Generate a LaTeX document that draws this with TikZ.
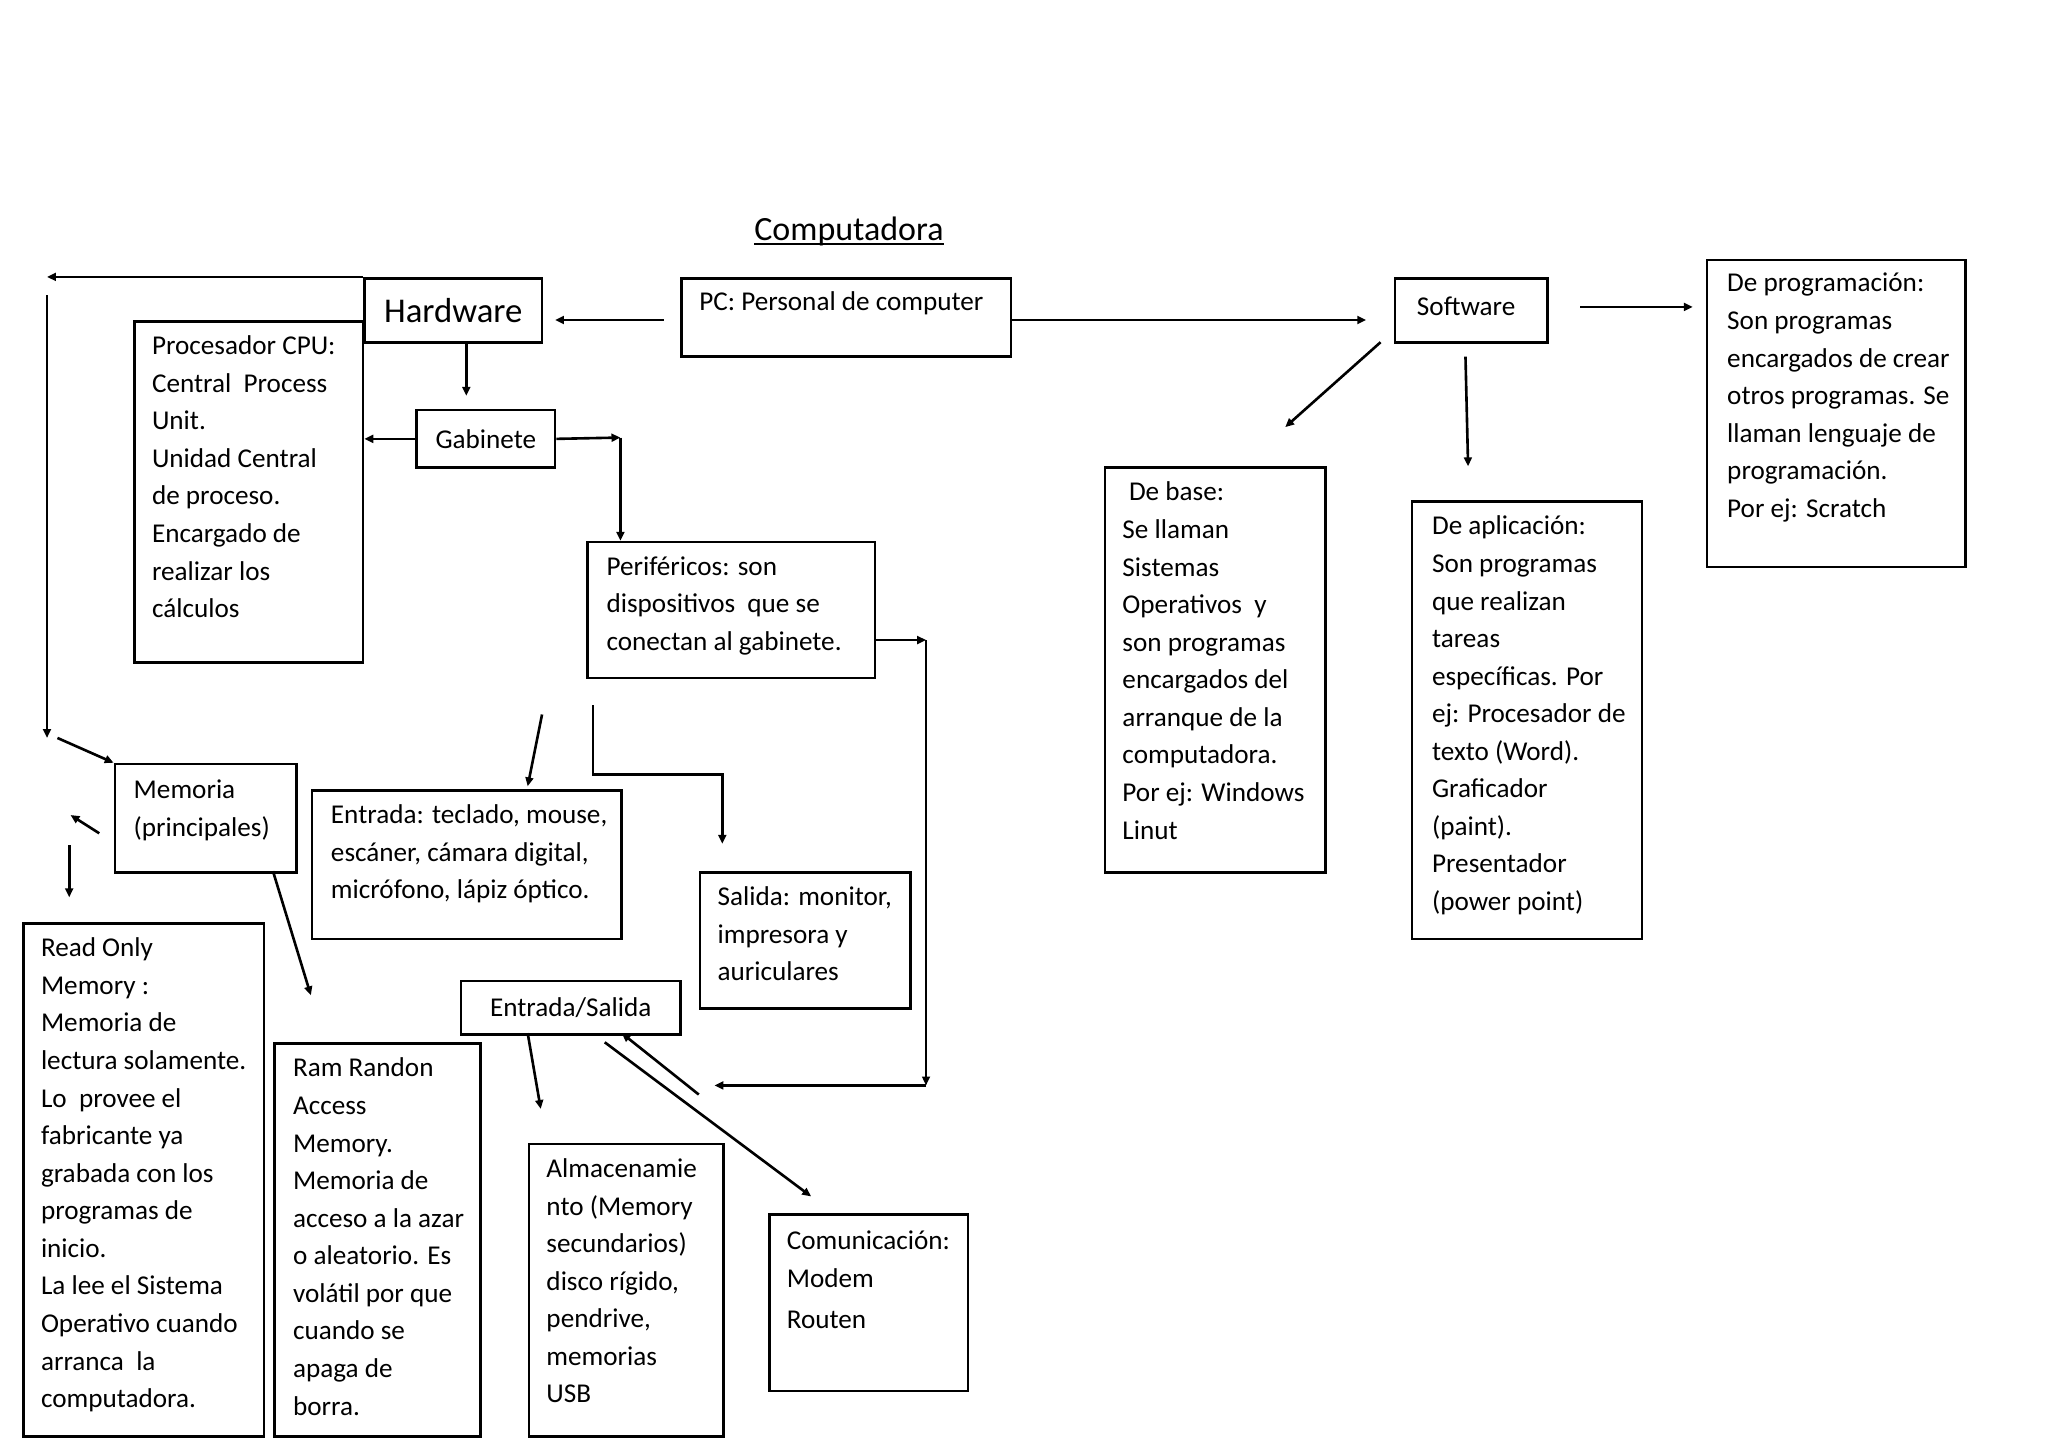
\documentclass[tikz,border=0pt]{standalone}
\usepackage{fontspec}
\setmainfont{Carlito}
\usetikzlibrary{arrows.meta}
\newcommand\bodyfont{\fontsize{10.4}{14.38}\selectfont}
\newcommand\ulc[1]{\setbox0\hbox{#1}\rlap{\rule[-1.8pt]{\wd0}{0.6pt}}\box0}
\newcommand\mkbox[5]{\node[box, minimum width=#4*0.5pt, minimum height=#5*0.5pt] (#1) at (#2,#3) {};}
\tikzset{
 box/.style={draw, line width=1pt, anchor=north west, inner sep=0pt, font=\bodyfont},
 txt/.style={anchor=north west, inner sep=0pt, align=left, font=\bodyfont},
 arr/.style={line width=1pt, -{Triangle[length=3.4pt,width=3pt]}},
 ln/.style={line width=1pt}
}
\begin{document}
\begin{tikzpicture}[x=0.5pt,y=-0.5pt]
\useasboundingbox (0,0) rectangle (1568,1108.6);
\fill[white] (0,0) rectangle (1568,1108.6);

% title
\node[font=\fontsize{13}{15}\selectfont] (title) at (650,177) {\ulc{Computadora}};

% single-line boxes
\node[box, minimum width=68pt, minimum height=24.5pt, font=\fontsize{13.3}{15}\selectfont] (hw) at (278,212) {Hardware};
\node[box, minimum width=58.5pt, minimum height=24.5pt] (sw) at (1067,212) {Software\rule[-3pt]{0pt}{0pt}\hspace*{4pt}};
\node[box, minimum width=53pt, minimum height=22pt] (gab) at (318,313) {Gabinete};
\node[box, minimum width=84pt, minimum height=20.5pt] (es) at (352,750) {Entrada/Salida};

% multi-line boxes
\mkbox{pc}{521}{212}{252}{60}
\mkbox{prog}{1306}{198}{198}{235}
\mkbox{cpu}{102}{245}{175}{261}
\mkbox{peri}{449}{414}{220}{104}
\mkbox{base}{845}{357}{169}{310}
\mkbox{apl}{1080}{383}{176}{335}
\mkbox{mem}{87}{584}{139}{83}
\mkbox{ent}{238}{604}{237}{114}
\mkbox{sal}{535}{667}{161}{104}
\mkbox{rom}{17}{706}{184}{393}
\mkbox{ram}{209}{798}{158}{301}
\mkbox{alm}{404}{875}{149}{224}
\mkbox{com}{588}{929}{152}{135}

\node[txt] (pc-t) at ([shift={(14,5)}]pc.north west) {\strut PC: Personal de computer};
\node[txt] (prog-t) at ([shift={(16,5)}]prog.north west) {\strut De programación:\\Son programas\\encargados de crear\\otros programas. Se\\llaman lenguaje de\\programación.\\Por ej: Scratch};
\node[txt] (cpu-t) at ([shift={(14,6)}]cpu.north west) {\strut Procesador CPU:\\Central~ Process\\Unit.\\Unidad Central\\de proceso.\\Encargado de\\realizar los\\cálculos};
\node[txt] (peri-t) at ([shift={(15,6)}]peri.north west) {\strut Periféricos: son\\dispositivos~ que se\\conectan al gabinete.};
\node[txt] (base-t) at ([shift={(14,6)}]base.north west) {\strut\hspace{2.5pt}De base:\\Se llaman\\Sistemas\\Operativos~ y\\son programas\\encargados del\\arranque de la\\computadora.\\Por ej: Windows\\Linut};
\node[txt] (apl-t) at ([shift={(16,6)}]apl.north west) {\strut De aplicación:\\Son programas\\que realizan\\tareas\\específicas. Por\\ej: Procesador de\\texto (Word).\\Graficador\\(paint).\\Presentador\\(power point)};
\node[txt] (mem-t) at ([shift={(15,7)}]mem.north west) {\strut Memoria\\(principales)};
\node[txt] (ent-t) at ([shift={(15,6)}]ent.north west) {\strut Entrada: teclado, mouse,\\escáner, cámara digital,\\micrófono, lápiz óptico.};
\node[txt] (sal-t) at ([shift={(14,6)}]sal.north west) {\strut Salida: monitor,\\impresora y\\auriculares};
\node[txt] (rom-t) at ([shift={(14,6)}]rom.north west) {\strut Read Only\\Memory :\\Memoria de\\lectura solamente.\\Lo~ provee el\\fabricante ya\\grabada con los\\programas de\\inicio.\\La lee el Sistema\\Operativo cuando\\arranca~ la\\computadora.};
\node[txt] (ram-t) at ([shift={(15,6)}]ram.north west) {\strut Ram Randon\\Access\\Memory.\\Memoria de\\acceso a la azar\\o aleatorio. Es\\volátil por que\\cuando se\\apaga de\\borra.};
\node[txt] (alm-t) at ([shift={(14,6)}]alm.north west) {\strut Almacenamie\\nto (Memory\\secundarios)\\disco rígido,\\pendrive,\\memorias\\USB};
\node[txt] (com-t) at ([shift={(14,7)}]com.north west) {\strut Comunicación:\\[0.4pt]Modem\\[1pt]Routen};

% free connector ends
\coordinate (cL1) at (36,212);
\coordinate (cL2) at (36,226);
\coordinate (cL3) at (36,565);
\coordinate (cM1) at (44,565);
\coordinate (cM2) at (76,638);
\coordinate (cM3) at (54,624);
\coordinate (cM4) at (53,647);
\coordinate (cM5) at (53,687);
\coordinate (cM6) at (209,667);
\coordinate (cM7) at (238,762);
\coordinate (cH1) at (508,245);
\coordinate (cH2) at (425,245);
\coordinate (cS1) at (1046,245);
\coordinate (cG1) at (357,303);
\coordinate (cP1) at (475,335);
\coordinate (cB1) at (1057,262);
\coordinate (cB2) at (984,327);
\coordinate (cA1) at (1122,273);
\coordinate (cA2) at (1124,357);
\coordinate (cR1) at (1210,235);
\coordinate (cR2) at (1296,235);
\coordinate (cQ1) at (709,490);
\coordinate (cQ2) at (709,831);
\coordinate (cQ3) at (547,831);
\coordinate (cE1) at (415,547);
\coordinate (cE2) at (404,602);
\coordinate (cO1) at (454,540);
\coordinate (cO2) at (454,593);
\coordinate (cO3) at (553,593);
\coordinate (cO4) at (553,646);
\coordinate (cX1) at (404,791);
\coordinate (cX2) at (414,849);
\coordinate (cY1) at (535,838);
\coordinate (cY2) at (476,791);
\coordinate (cZ1) at (463,798);
\coordinate (cZ2) at (621,916);

% connectors
\draw[arr] (hw.north west) -- (cL1);
\draw[arr] (cL2) -- (cL3);
\draw[arr] (cM1) -- (mem.north west);
\draw[arr] (cM2) -- (cM3);
\draw[arr] (cM4) -- (cM5);
\draw[arr] (cM6) -- (cM7);
\draw[arr] (cH1) -- (cH2);
\draw[arr] (pc.east |- cS1) -- (cS1);
\draw[arr] (hw.south -| cG1) -- (cG1);
\draw[arr] (gab.west) -- (gab.west -| cpu.east);
\draw[arr] (gab.east) -- (cP1);
\draw[arr] (cP1) -- (cP1 |- peri.north);
\draw[arr] (cB1) -- (cB2);
\draw[arr] (cA1) -- (cA2);
\draw[arr] (cR1) -- (cR2);
\draw[arr] (peri.east |- cQ1) -- (cQ1);
\draw[arr] (cQ1) -- (cQ2);
\draw[arr] (cQ2) -- (cQ3);
\draw[arr] (cE1) -- (cE2);
\draw[arr] (cO1) -- (cO2) -- (cO3) -- (cO4);
\draw[arr] (cX1) -- (cX2);
\draw[arr] (cY1) -- (cY2);
\draw[arr] (cZ1) -- (cZ2);
\end{tikzpicture}
\end{document}
